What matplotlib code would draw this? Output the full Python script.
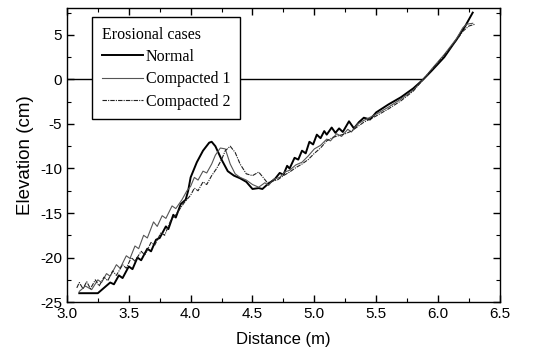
import matplotlib
matplotlib.use('Agg')
from matplotlib import pyplot as plt
from matplotlib.ticker import MultipleLocator

# profile data (distance in m, elevation in cm)
normal_x = [3.10, 3.25, 3.30, 3.35, 3.38, 3.42, 3.45, 3.50, 3.53, 3.57, 3.60, 3.65, 3.68, 3.72, 3.75,
            3.80, 3.82, 3.86, 3.88, 3.92, 3.96, 3.98, 4.00, 4.05, 4.10, 4.15, 4.17, 4.20, 4.25, 4.30,
            4.35, 4.40, 4.45, 4.50, 4.55, 4.58, 4.62, 4.65, 4.68, 4.72, 4.75, 4.78, 4.80, 4.84, 4.87,
            4.90, 4.93, 4.96, 4.99, 5.02, 5.05, 5.08, 5.10, 5.14, 5.17, 5.20, 5.23, 5.28, 5.32, 5.36,
            5.40, 5.45, 5.50, 5.60, 5.70, 5.80, 5.88, 5.95, 6.05, 6.15, 6.22, 6.28]
normal_y = [-24.0, -24.0, -23.4, -22.8, -23.0, -22.0, -22.3, -21.0, -21.3, -20.0, -20.3, -19.0, -19.3, -18.0, -17.8,
            -16.5, -16.8, -15.2, -15.5, -14.0, -13.5, -12.5, -11.0, -9.3, -8.0, -7.1, -7.0, -7.5, -9.0, -10.3,
            -10.8, -11.1, -11.5, -12.3, -12.2, -12.3, -11.8, -11.5, -11.2, -10.5, -10.7, -9.7, -10.0, -8.8, -9.0,
            -8.0, -8.3, -7.0, -7.3, -6.2, -6.6, -5.8, -6.2, -5.4, -6.0, -5.5, -5.9, -4.7, -5.5, -4.8,
            -4.3, -4.5, -3.7, -2.8, -2.0, -1.0, 0.0, 1.0, 2.5, 4.5, 6.0, 7.5]

comp1_x = [3.10, 3.15, 3.20, 3.25, 3.28, 3.32, 3.35, 3.40, 3.43, 3.48, 3.51, 3.55, 3.58, 3.62, 3.65,
           3.70, 3.73, 3.77, 3.80, 3.85, 3.88, 3.93, 3.97, 4.00, 4.03, 4.06, 4.10, 4.13, 4.17, 4.20,
           4.24, 4.28, 4.32, 4.36, 4.40, 4.45, 4.50, 4.55, 4.60, 4.63, 4.67, 4.72, 4.76, 4.80, 4.85,
           4.90, 4.95, 5.00, 5.05, 5.10, 5.13, 5.18, 5.22, 5.27, 5.30, 5.35, 5.40, 5.50, 5.60, 5.70,
           5.80, 5.88, 5.95, 6.05, 6.15, 6.20, 6.23, 6.28]
comp1_y = [-23.8, -23.2, -23.6, -22.5, -22.8, -21.8, -22.1, -20.8, -21.2, -19.8, -20.1, -18.7, -19.0, -17.5, -17.8,
           -16.0, -16.5, -15.3, -15.6, -14.2, -14.5, -13.5, -12.5, -12.0, -11.0, -11.3, -10.3, -10.5, -9.5, -8.5,
           -7.7, -7.8, -9.5, -10.6, -11.0, -11.3, -11.8, -12.1, -11.6, -11.9, -11.2, -11.0, -10.4, -10.2, -9.6,
           -9.3, -8.6, -7.8, -7.4, -6.7, -6.9, -6.1, -6.4, -5.6, -5.9, -5.0, -4.6, -3.9, -3.1, -2.2,
           -1.2, 0.0, 1.2, 2.8, 4.6, 5.8, 6.2, 6.3]

comp2_x = [3.08, 3.10, 3.13, 3.16, 3.19, 3.23, 3.26, 3.30, 3.33, 3.37, 3.40, 3.45, 3.48, 3.52, 3.55,
           3.60, 3.63, 3.68, 3.71, 3.76, 3.79, 3.84, 3.87, 3.90, 3.95, 4.00, 4.03, 4.06, 4.10, 4.13,
           4.17, 4.21, 4.25, 4.28, 4.32, 4.36, 4.40, 4.45, 4.50, 4.55, 4.58, 4.62, 4.66, 4.70, 4.75,
           4.80, 4.85, 4.90, 4.95, 5.00, 5.05, 5.10, 5.15, 5.20, 5.25, 5.30, 5.40, 5.50, 5.60, 5.70,
           5.80, 5.88, 5.95, 6.05, 6.15, 6.20, 6.25, 6.30]
comp2_y = [-23.4, -22.8, -23.5, -22.7, -23.5, -22.5, -23.2, -22.2, -22.6, -21.5, -22.0, -20.8, -21.2, -20.0, -20.4,
           -19.3, -19.7, -18.3, -18.6, -17.2, -17.5, -15.8, -15.4, -14.8, -13.8, -13.0, -12.2, -12.5, -11.5, -11.8,
           -10.8, -10.0, -9.0, -8.0, -7.5, -8.2, -9.5, -10.6, -10.8, -10.4, -10.9, -11.6, -11.4, -11.3, -10.8,
           -10.4, -9.9, -9.5, -9.0, -8.3, -7.7, -6.9, -6.5, -6.3, -6.1, -5.8, -4.8, -4.1, -3.3, -2.4,
           -1.3, 0.0, 1.1, 2.7, 4.4, 5.4, 6.0, 6.2]

# still water level
water_x = [3.0, 5.87]
water_y = [0.0, 0.0]

plt.rcParams['font.family'] = ['Liberation Sans', 'DejaVu Sans']
plt.rcParams['axes.unicode_minus'] = False

fig = plt.figure(figsize=(5.44, 3.55), dpi=100)
ax = fig.add_axes([0.123, 0.149, 0.796, 0.828])

ax.plot(water_x, water_y, color='black', lw=1.0)
ax.plot(normal_x, normal_y, color='black', lw=1.4, label='Normal')
ax.plot(comp1_x, comp1_y, color='#555555', lw=0.8, label='Compacted 1')
ax.plot(comp2_x, comp2_y, color='#222222', lw=0.8, ls=(0, (4, 1, 1, 1)), label='Compacted 2')

ax.set_xlim(3.0, 6.5)
ax.set_ylim(-25, 8)
ax.xaxis.set_major_locator(MultipleLocator(0.5))
ax.xaxis.set_minor_locator(MultipleLocator(0.25))
ax.yaxis.set_major_locator(MultipleLocator(5))
ax.yaxis.set_minor_locator(MultipleLocator(2.5))
ax.xaxis.set_major_formatter(plt.FormatStrFormatter('%.1f'))
ax.tick_params(which='both', direction='in', top=True, right=True, labelsize=11)
ax.tick_params(which='major', length=5, width=1.0)
ax.tick_params(which='minor', length=3, width=0.8)
for s in ax.spines.values():
    s.set_linewidth(1.0)

ax.set_xlabel('Distance (m)', fontsize=12, labelpad=8)
ax.set_ylabel('Elevation (cm)', fontsize=13.5, labelpad=4)

leg = ax.legend(loc='upper left', bbox_to_anchor=(0.058, 0.97), title='Erosional cases',
                prop={'family': 'Liberation Serif', 'size': 11.5}, fancybox=False,
                framealpha=1, edgecolor='black', handlelength=2.6, handletextpad=0.15,
                labelspacing=0.4, borderpad=0.6, borderaxespad=0)
leg.get_title().set_fontfamily('Liberation Serif')
leg.get_title().set_fontsize(11.5)
leg._legend_box.align = 'left'
leg.get_frame().set_linewidth(1.0)

fig.savefig('out.png', dpi=100)
